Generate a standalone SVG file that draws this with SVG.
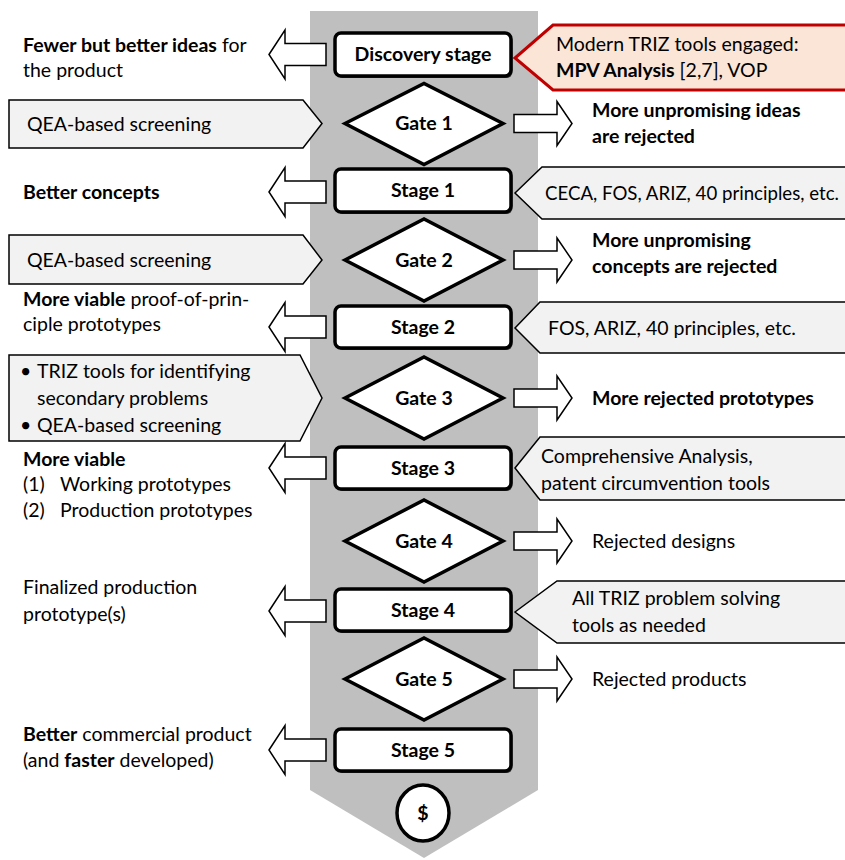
<svg xmlns="http://www.w3.org/2000/svg" width="845" height="860" viewBox="0 0 845 860">
<style>
text{font-family:Lato,"Liberation Sans",Arial,sans-serif;font-size:19.5px;fill:#000}
.b{font-weight:bold}
.c{text-anchor:middle}
.arrow{fill:#fff;stroke:#000;stroke-width:1.5;stroke-linejoin:miter}
.co{fill:#f2f2f2;stroke:#000;stroke-width:1.5;stroke-linejoin:miter}
.red{fill:#fbe5d6;stroke:#c00000;stroke-width:3;stroke-linejoin:miter}
.stage{fill:#fff;stroke:#000;stroke-width:3.5}
.shadow{fill:#333}
.gate{fill:#fff;stroke:#000;stroke-width:3.5;stroke-linejoin:miter}
</style>
<polygon id="band" points="310,11 538,11 538,790 424,858 310,790" fill="#bfbfbf"/>
<g id="callouts">
<g id="c-discovery"><polygon class="red" points="515,58 553,25 850,25 850,90 553,90"/>
<text x="556" y="51">Modern TRIZ tools engaged:</text>
<text x="556" y="77"><tspan class="b">MPV Analysis</tspan> [2,7], VOP</text></g>
<g id="c-qea1"><polygon class="co" points="9,100 303,100 322,123.5 303,148 9,148"/>
<text x="27" y="131">QEA-based screening</text></g>
<g id="c-stage1"><polygon class="co" points="515,193 542,167 850,167 850,219 542,219"/>
<text x="545" y="200" style="font-size:18.4px" textLength="294" lengthAdjust="spacingAndGlyphs">CECA, FOS, ARIZ, 40 principles, etc.</text></g>
<g id="c-qea2"><polygon class="co" points="9,235 303,235 322,260 303,284 9,284"/>
<text x="27" y="267">QEA-based screening</text></g>
<g id="c-stage2"><polygon class="co" points="515,328 540,302 850,302 850,353 540,353"/>
<text x="548" y="335">FOS, ARIZ, 40 principles, etc.</text></g>
<g id="c-gate3"><polygon class="co" points="9,355 300,355 322,398 300,441 9,441"/>
<text x="20" y="378">•</text><text x="37" y="378">TRIZ tools for identifying</text>
<text x="37" y="405">secondary problems</text>
<text x="20" y="432">•</text><text x="37" y="432">QEA-based screening</text></g>
<g id="c-stage3"><polygon class="co" points="515,468 540,437 850,437 850,500 540,500"/>
<text x="541" y="463">Comprehensive Analysis,</text>
<text x="541" y="490">patent circumvention tools</text></g>
<g id="c-stage4"><polygon class="co" points="515,612 557,581 850,581 850,643 557,643"/>
<text x="572" y="605">All TRIZ problem solving</text>
<text x="572" y="632">tools as needed</text></g>
</g>
<g id="connectors">
<polygon class="arrow" points="269,54.5 285,30 285,43.5 326,43.5 326,65.5 285,65.5 285,79"/>
<polygon class="arrow" points="269,192 285,167.5 285,181 326,181 326,203 285,203 285,216.5"/>
<polygon class="arrow" points="269,327 285,302.5 285,316 326,316 326,338 285,338 285,351.5"/>
<polygon class="arrow" points="269,468 285,443.5 285,457 326,457 326,479 285,479 285,492.5"/>
<polygon class="arrow" points="269,611 285,586.5 285,600 326,600 326,622 285,622 285,635.5"/>
<polygon class="arrow" points="269,750 285,725.5 285,739 326,739 326,761 285,761 285,774.5"/>
<polygon class="arrow" points="514,114.5 557,114.5 557,101.5 572,123.5 557,145.5 557,132.5 514,132.5"/>
<polygon class="arrow" points="514,251 557,251 557,238 572,260 557,282 557,269 514,269"/>
<polygon class="arrow" points="514,389 557,389 557,376 572,398 557,420 557,407 514,407"/>
<polygon class="arrow" points="514,532 557,532 557,519 572,541 557,563 557,550 514,550"/>
<polygon class="arrow" points="514,670 557,670 557,657 572,679 557,701 557,688 514,688"/>
</g>
<g id="discovery"><rect class="shadow" x="336.5" y="35" width="176" height="43" rx="6"/><rect class="stage" x="335" y="33" width="176" height="43" rx="6"/>
<text class="b c" x="423" y="61">Discovery stage</text></g>
<g id="gate1"><polygon class="gate" points="345,123.5 424,83.5 503,123.5 424,164.5"/><text class="b c" x="424" y="130">Gate 1</text></g>
<g id="stage1"><rect class="shadow" x="336.5" y="171" width="176" height="43" rx="6"/><rect class="stage" x="335" y="169" width="176" height="43" rx="6"/>
<text class="b c" x="423" y="197">Stage 1</text></g>
<g id="gate2"><polygon class="gate" points="345,260 424,219 503,260 424,301"/><text class="b c" x="424" y="267">Gate 2</text></g>
<g id="stage2"><rect class="shadow" x="336.5" y="308" width="176" height="42" rx="6"/><rect class="stage" x="335" y="306" width="176" height="42" rx="6"/>
<text class="b c" x="423" y="334">Stage 2</text></g>
<g id="gate3"><polygon class="gate" points="345,398 424,357 503,398 424,439"/><text class="b c" x="424" y="405">Gate 3</text></g>
<g id="stage3"><rect class="shadow" x="336.5" y="449" width="176" height="42" rx="6"/><rect class="stage" x="335" y="447" width="176" height="42" rx="6"/>
<text class="b c" x="423" y="475">Stage 3</text></g>
<g id="gate4"><polygon class="gate" points="345,541 424,500 503,541 424,582"/><text class="b c" x="424" y="548">Gate 4</text></g>
<g id="stage4"><rect class="shadow" x="336.5" y="591" width="176" height="42" rx="6"/><rect class="stage" x="335" y="589" width="176" height="42" rx="6"/>
<text class="b c" x="423" y="617">Stage 4</text></g>
<g id="gate5"><polygon class="gate" points="345,679 424,638 503,679 424,720"/><text class="b c" x="424" y="686">Gate 5</text></g>
<g id="stage5"><rect class="shadow" x="336.5" y="731" width="176" height="42" rx="6"/><rect class="stage" x="335" y="729" width="176" height="42" rx="6"/>
<text class="b c" x="423" y="757">Stage 5</text></g>
<g id="money"><ellipse cx="423" cy="813" rx="26" ry="28" fill="#fff" stroke="#000" stroke-width="3.5"/><text class="b c" x="423" y="820">$</text></g>
<g id="outputs">
<text x="23" y="52"><tspan class="b">Fewer but better ideas</tspan> for</text>
<text x="23" y="77">the product</text>
<text class="b" x="23" y="199">Better concepts</text>
<text x="23" y="306"><tspan class="b">More viable</tspan> proof-of-prin-</text>
<text x="23" y="331">ciple prototypes</text>
<text class="b" x="23" y="466">More viable</text>
<text x="23" y="491">(1)</text><text x="60" y="491">Working prototypes</text>
<text x="23" y="517">(2)</text><text x="60" y="517">Production prototypes</text>
<text x="23" y="594">Finalized production</text>
<text x="23" y="621">prototype(s)</text>
<text x="23" y="741"><tspan class="b">Better</tspan> commercial product</text>
<text x="23" y="767">(and <tspan class="b">faster</tspan> developed)</text>
<text class="b" x="592" y="117">More unpromising ideas</text>
<text class="b" x="592" y="143">are rejected</text>
<text class="b" x="592" y="247">More unpromising</text>
<text class="b" x="592" y="273">concepts are rejected</text>
<text class="b" x="592" y="405">More rejected prototypes</text>
<text x="592" y="548">Rejected designs</text>
<text x="592" y="686">Rejected products</text>
</g>
</svg>
